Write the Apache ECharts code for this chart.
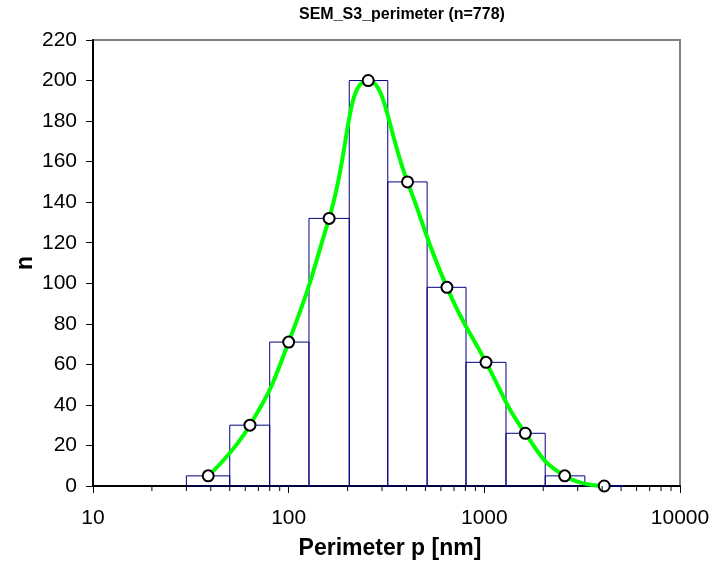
<!DOCTYPE html>
<html>
<head>
<meta charset="utf-8">
<script src="https://cdn.jsdelivr.net/npm/echarts@6/dist/echarts.min.js"></script>
<style>
html,body{margin:0;padding:0;background:#fff;}
#chart{width:717px;height:565px;}
</style>
</head>
<body>
<div id="chart"></div>
<script>
// Histogram bins (perimeter, nm) and counts
const binLower = [30, 50, 80, 127, 204, 321, 510, 806, 1290, 2047, 3264];
const binUpper = [50, 80, 127, 204, 321, 510, 806, 1290, 2047, 3264, 5180];
const counts   = [5, 30, 71, 132, 200, 150, 98, 61, 26, 5, 0];
// Bin centres (circles)
const centers  = [38.8, 63.4, 100, 161, 255, 405, 644, 1020, 1620, 2575, 4100];
const xMinorTicks = [20, 30, 40, 50, 60, 70, 80, 90, 200, 300, 400, 500, 600, 700, 800, 900, 2000, 3000, 4000, 5000, 6000, 7000, 8000, 9000];
const titleText = 'SEM_S3_perimeter (n=778)';
const xName = 'Perimeter p [nm]';
const yName = 'n';

const FONT = 'Liberation Sans, Arial, Helvetica, sans-serif';
const chart = echarts.init(document.getElementById('chart'), null, {renderer: 'canvas'});

const barData = binLower.map((lo, i) => [lo, binUpper[i], counts[i]]);
const pointData = centers.map((c, i) => [c, counts[i]]);

chart.setOption({
  animation: false,
  backgroundColor: '#fff',
  title: {
    text: titleText,
    left: 299, top: 7, padding: 0,
    textStyle: {fontFamily: FONT, fontSize: 16, fontWeight: 'bold', color: '#000'}
  },
  grid: {
    left: 93, right: 37, top: 40, bottom: 77,
    show: true, borderColor: '#808080', borderWidth: 2, backgroundColor: 'transparent'
  },
  xAxis: {
    type: 'log', logBase: 10, min: 10, max: 10000,
    name: xName, nameLocation: 'middle', nameGap: 51, nameMoveOverlap: false,
    nameTextStyle: {fontFamily: FONT, fontSize: 23, fontWeight: 'bold', color: '#000', padding: [0, 0, 0, 7]},
    axisLine: {show: true, onZero: false, lineStyle: {color: '#000', width: 2}},
    axisTick: {show: true, inside: false, length: 7, lineStyle: {color: '#000', width: 1}},
    axisLabel: {fontFamily: FONT, fontSize: 21, color: '#000', margin: 22, formatter: v => String(Math.round(v))},
    splitLine: {show: false},
    minorTick: {show: false}
  },
  yAxis: {
    type: 'value', min: 0, max: 220, interval: 20,
    name: yName, nameLocation: 'middle', nameGap: 56, nameRotate: 90, nameMoveOverlap: false,
    nameTextStyle: {fontFamily: FONT, fontSize: 23, fontWeight: 'bold', color: '#000'},
    axisLine: {show: true, lineStyle: {color: '#000', width: 2}},
    axisTick: {show: true, inside: false, length: 7, lineStyle: {color: '#000', width: 1}},
    axisLabel: {fontFamily: FONT, fontSize: 21, color: '#000', margin: 16},
    splitLine: {show: false}
  },
  series: [
    {
      type: 'custom', name: 'bars', clip: false, z: 2,
      data: barData,
      encode: {x: [0, 1], y: 2},
      renderItem: function (params, api) {
        const p0 = api.coord([api.value(0), api.value(2)]);
        const p1 = api.coord([api.value(1), 0]);
        return {
          type: 'rect',
          shape: {x: p0[0], y: p0[1], width: p1[0] - p0[0], height: p1[1] - p0[1]},
          style: {fill: 'none', stroke: '#000080', lineWidth: 1}
        };
      }
    },
    {
      type: 'custom', name: 'minorTicks', clip: false, z: 5, silent: true,
      data: xMinorTicks.map(v => [v, 0]),
      encode: {x: 0, y: 1},
      renderItem: function (params, api) {
        const p = api.coord([api.value(0), 0]);
        return {
          type: 'line',
          shape: {x1: p[0], y1: p[1], x2: p[0], y2: p[1] + 5},
          style: {stroke: '#000', lineWidth: 1}
        };
      }
    },
    {
      type: 'line', name: 'fit', data: pointData, smooth: 0.5,
      showSymbol: false, symbol: 'none', z: 3,
      lineStyle: {color: '#00ff00', width: 4}
    },
    {
      type: 'scatter', name: 'points', data: pointData, z: 4,
      symbol: 'circle', symbolSize: 11,
      itemStyle: {color: '#fff', borderColor: '#000', borderWidth: 2, opacity: 1}
    }
  ]
});
</script>
</body>
</html>
